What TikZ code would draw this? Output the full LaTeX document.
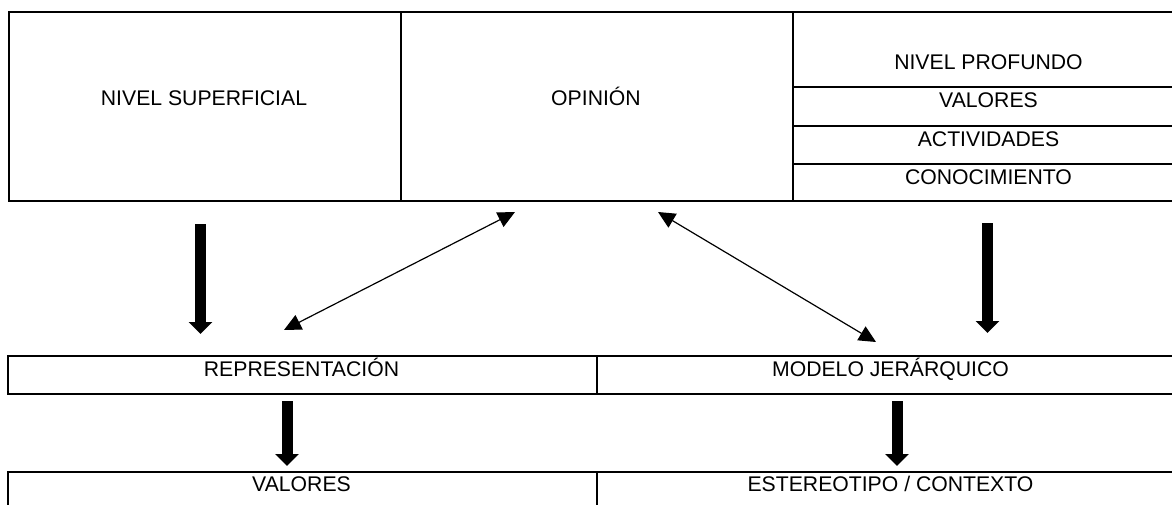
\documentclass[tikz,border=0pt]{standalone}
\usepackage{fontspec}
\setmainfont{Liberation Sans}
\usetikzlibrary{arrows.meta}
\begin{document}
\begin{tikzpicture}[x=1pt,y=-1pt,
  cell/.style={draw, line width=2pt, inner sep=0pt, anchor=north west},
  txt/.style={inner sep=0pt, text height=15pt, text depth=0pt,
              font=\fontsize{21.2}{25}\selectfont},
  bigarrow/.style={line width=11pt, -{Triangle[width=23pt,length=12pt]}},
  linkarrow/.style={line width=1.2pt,
    {Triangle[length=17pt,width=16pt]}-{Triangle[length=17pt,width=16pt]}}]

\useasboundingbox (0,0) rectangle (1172,504);
\clip (0,0) rectangle (1172,504);

% upper table
\node[cell, minimum width=392pt, minimum height=189pt] (sup) at (8,11) {};
\node[cell, minimum width=392pt, minimum height=189pt] (opi) at (400,11) {};
\node[cell, minimum width=393pt, minimum height=75pt]  (prof) at (792,11) {};
\node[cell, minimum width=393pt, minimum height=39pt]  (val) at (792,86) {};
\node[cell, minimum width=393pt, minimum height=38pt]  (act) at (792,125) {};
\node[cell, minimum width=393pt, minimum height=37pt]  (con) at (792,163) {};

\node[txt] (tsup)  at (204,98)    {NIVEL SUPERFICIAL};
\node[txt] (topi)  at (596,98)    {OPINIÓN};
\node[txt] (tprof) at (988.5,62)  {NIVEL PROFUNDO};
\node[txt] (tval)  at (988.5,100) {VALORES};
\node[txt] (tact)  at (988.5,138.5) {ACTIVIDADES};
\node[txt] (tcon)  at (988.5,176.5) {CONOCIMIENTO};

% middle row
\node[cell, minimum width=589pt, minimum height=38pt] (rep) at (7,355) {};
\node[cell, minimum width=589pt, minimum height=38pt] (mod) at (596,355) {};
\node[txt] (trep) at (301.5,368.5) {REPRESENTACIÓN};
\node[txt] (tmod) at (890.5,368.5) {MODELO JERÁRQUICO};

% lower row
\node[cell, minimum width=589pt, minimum height=45pt] (valb) at (7,471) {};
\node[cell, minimum width=589pt, minimum height=45pt] (est) at (596,471) {};
\node[txt] (tvalb) at (301.5,483.5) {VALORES};
\node[txt] (test)  at (890.5,483.5) {ESTEREOTIPO / CONTEXTO};

% arrow end points
\coordinate (a1s) at (200.5,224); \coordinate (a1e) at (200.5,334);
\coordinate (a2s) at (987.5,223); \coordinate (a2e) at (987.5,333);
\coordinate (a3s) at (287,401);   \coordinate (a3e) at (287,466);
\coordinate (a4s) at (897,401);   \coordinate (a4e) at (897,466);
\coordinate (l1a) at (284,330);   \coordinate (l1b) at (515,212);
\coordinate (l2a) at (658,212);   \coordinate (l2b) at (876,342);

\draw[bigarrow] (a1s) -- (a1e);
\draw[bigarrow] (a2s) -- (a2e);
\draw[bigarrow] (a3s) -- (a3e);
\draw[bigarrow] (a4s) -- (a4e);
\draw[linkarrow] (l1a) -- (l1b);
\draw[linkarrow] (l2a) -- (l2b);
\end{tikzpicture}
\end{document}
